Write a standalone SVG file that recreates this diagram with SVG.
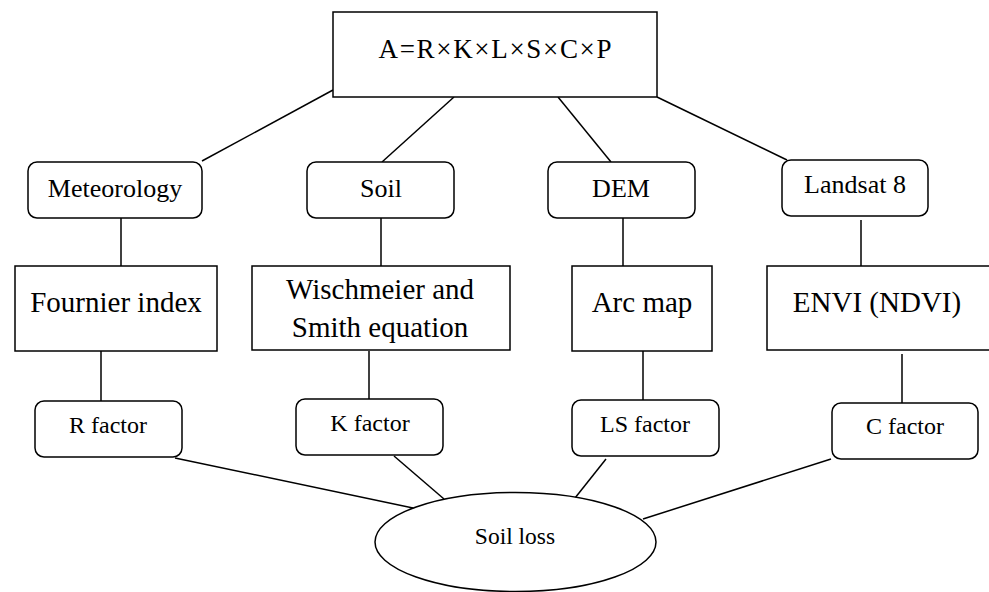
<svg xmlns="http://www.w3.org/2000/svg" width="989" height="592" viewBox="0 0 989 592">
<style>
.box{fill:#fff;stroke:#000;stroke-width:1.5}
.t{font-family:"Liberation Serif","Times New Roman",serif;fill:#000;text-anchor:middle}
.big{font-size:29px}
.mid{font-size:26px}
.sm{font-size:24px}
.ln{stroke:#000;stroke-width:1.5;fill:none}
</style>
<rect width="989" height="592" fill="#fff"/>
<g id="connectors">
<line class="ln" x1="333" y1="90" x2="202" y2="161"/>
<line class="ln" x1="454" y1="97" x2="382" y2="162"/>
<line class="ln" x1="558" y1="97" x2="611" y2="162"/>
<line class="ln" x1="657" y1="97" x2="787" y2="160"/>
<line class="ln" x1="121" y1="218" x2="121" y2="266"/>
<line class="ln" x1="381" y1="218" x2="381" y2="266"/>
<line class="ln" x1="623" y1="218" x2="623" y2="266"/>
<line class="ln" x1="861" y1="220" x2="861" y2="268"/>
<line class="ln" x1="101" y1="351" x2="101" y2="401"/>
<line class="ln" x1="369" y1="351" x2="369" y2="399"/>
<line class="ln" x1="643" y1="351" x2="643" y2="400"/>
<line class="ln" x1="902" y1="354" x2="902" y2="403"/>
<line class="ln" x1="175" y1="458" x2="413" y2="508"/>
<line class="ln" x1="394" y1="456" x2="444" y2="499"/>
<line class="ln" x1="606" y1="459" x2="575" y2="498"/>
<line class="ln" x1="831" y1="459" x2="643" y2="519"/>
</g>
<g id="formula">
<rect class="box" x="333" y="12" width="324" height="85"/>
<text class="t" x="495" y="58" font-size="27" textLength="233" lengthAdjust="spacing">A=R×K×L×S×C×P</text>
</g>
<g id="meteorology">
<rect class="box" x="28" y="162" width="174" height="56" rx="9"/>
<text class="t mid" x="115" y="197">Meteorology</text>
</g>
<g id="soil">
<rect class="box" x="307" y="162" width="147" height="56" rx="9"/>
<text class="t mid" x="381" y="197">Soil</text>
</g>
<g id="dem">
<rect class="box" x="548" y="162" width="147" height="56" rx="9"/>
<text class="t mid" x="621" y="197">DEM</text>
</g>
<g id="landsat">
<rect class="box" x="782" y="160" width="146" height="56" rx="9"/>
<text class="t mid" x="855" y="193">Landsat 8</text>
</g>
<g id="fournier">
<rect class="box" x="15" y="266" width="202" height="85"/>
<text class="t big" x="116" y="312">Fournier index</text>
</g>
<g id="wischmeier">
<rect class="box" x="252" y="266" width="258" height="84"/>
<text class="t big" x="380" y="299">Wischmeier and</text>
<text class="t big" x="380" y="337">Smith equation</text>
</g>
<g id="arcmap">
<rect class="box" x="572" y="266" width="140" height="85"/>
<text class="t big" x="642" y="312">Arc map</text>
</g>
<g id="envi">
<rect class="box" x="767" y="266" width="230" height="84"/>
<text class="t big" x="877" y="312">ENVI (NDVI)</text>
</g>
<g id="r-factor">
<rect class="box" x="35" y="401" width="147" height="56" rx="9"/>
<text class="t sm" x="108" y="433">R factor</text>
</g>
<g id="k-factor">
<rect class="box" x="296" y="399" width="147" height="56" rx="9"/>
<text class="t sm" x="370" y="431">K factor</text>
</g>
<g id="ls-factor">
<rect class="box" x="572" y="400" width="147" height="56" rx="9"/>
<text class="t sm" x="645" y="432">LS factor</text>
</g>
<g id="c-factor">
<rect class="box" x="832" y="403" width="146" height="56" rx="9"/>
<text class="t sm" x="905" y="434">C factor</text>
</g>
<g id="soil-loss">
<ellipse class="box" cx="515.5" cy="542" rx="140.5" ry="49.5"/>
<text class="t" font-size="23.5" x="515" y="544">Soil loss</text>
</g>
</svg>
